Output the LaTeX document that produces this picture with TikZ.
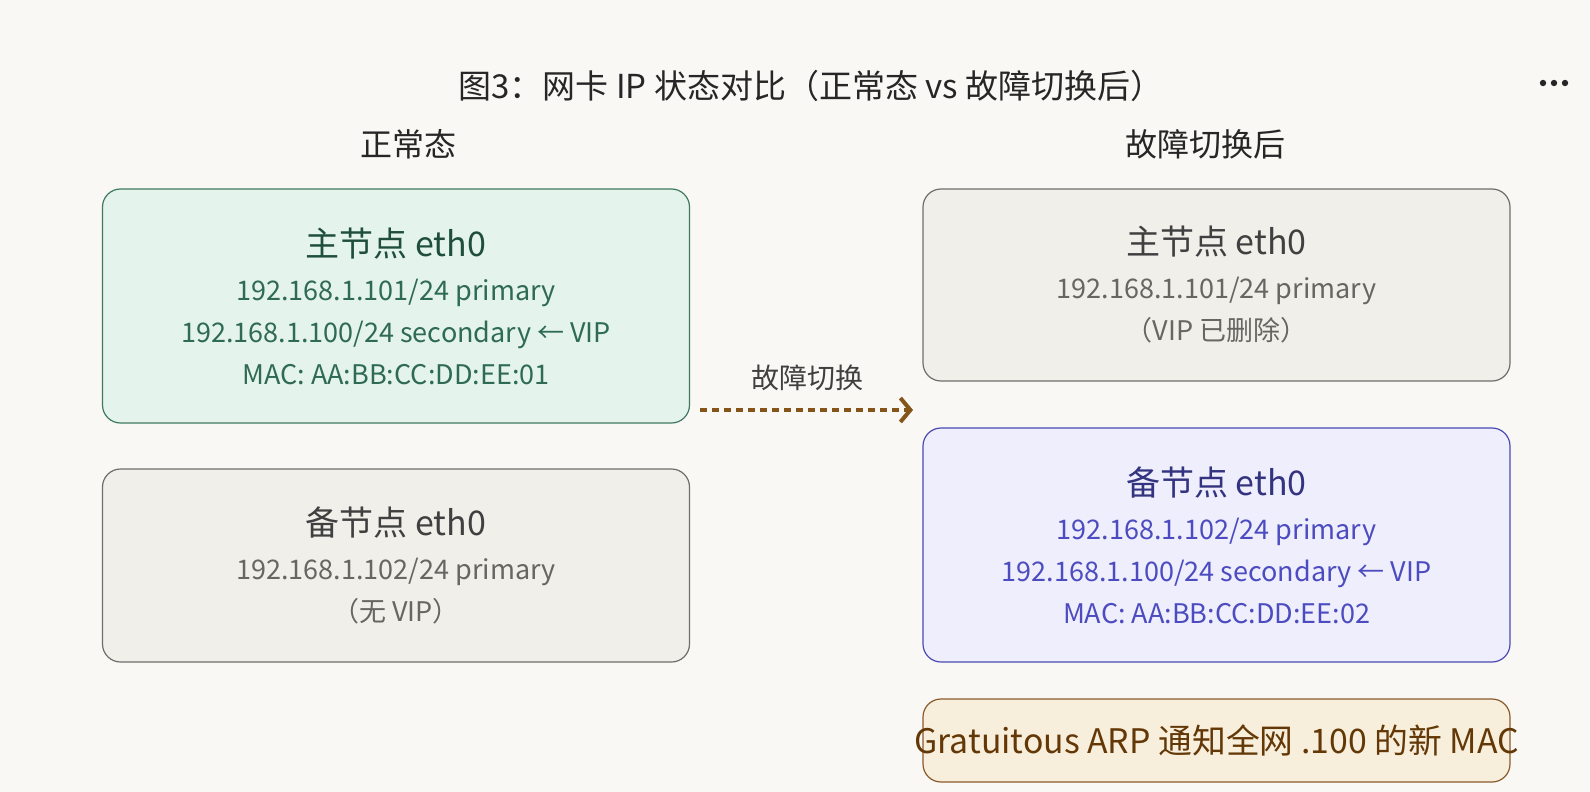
\documentclass[tikz,border=0pt]{standalone}
\usepackage{fontspec}
\setmainfont{Noto Sans CJK SC}
\usetikzlibrary{arrows.meta,positioning}
\definecolor{bgcol}{HTML}{FAF8F4}
\definecolor{inkcol}{HTML}{262626}
\definecolor{okfill}{HTML}{E4F3EC}
\definecolor{okline}{HTML}{3F7A60}
\definecolor{oktext}{HTML}{2F6B53}
\definecolor{okhead}{HTML}{1F4F3C}
\definecolor{idlefill}{HTML}{F0EFEA}
\definecolor{idleline}{HTML}{6E6E6A}
\definecolor{idletext}{HTML}{666662}
\definecolor{idlehead}{HTML}{404040}
\definecolor{vipfill}{HTML}{EEEEFC}
\definecolor{vipline}{HTML}{4A4AB4}
\definecolor{viptext}{HTML}{4C4CC0}
\definecolor{viphead}{HTML}{33337F}
\definecolor{arpfill}{HTML}{F7EEDB}
\definecolor{arpline}{HTML}{8B5A2B}
\definecolor{arptext}{HTML}{633806}
\definecolor{swcol}{HTML}{845419}
\tikzset{
  panel/.style={
    draw,
    rounded corners=9pt,
    line width=0.6pt,
    minimum width=293.5pt,
    align=center,
    inner sep=0pt,
    font=\fontsize{13.5}{21}\selectfont
  },
  okpanel/.style={panel, draw=okline, fill=okfill, text=oktext},
  idlepanel/.style={panel, draw=idleline, fill=idlefill, text=idletext},
  vippanel/.style={panel, draw=vipline, fill=vipfill, text=viptext},
  heading/.style={
    text=inkcol,
    font=\fontsize{16}{20}\selectfont
  },
  dot/.style={
    shape=circle,
    fill=inkcol,
    inner sep=0pt,
    minimum size=3.2pt
  },
}
\newcommand{\hd}[2]{{\color{#1}\fontsize{17}{20}\selectfont #2}\\[1pt]}

\begin{document}
\begin{tikzpicture}[x=0.5pt,y=-0.5pt]
  \useasboundingbox[fill=bgcol] (0,0) rectangle (1590,792);
  % titles
  \node[heading, font=\fontsize{16.5}{20}\selectfont] (title) at (811,86) {图3：网卡 IP 状态对比（正常态 vs 故障切换后）};
  \node[heading] (normal) at (408,144) {正常态};
  \node[heading] (after) at (1205,144) {故障切换后};
  \foreach \x [count=\i] in {1543,1554,1565}{
    \node[dot] (d\i) at (\x,83) {};
  }
  % normal state
  \node[okpanel, minimum height=117pt] (mainA) at (396,306)
    {\hd{okhead}{主节点 eth0}
     192.168.1.101/24 primary\\
     192.168.1.100/24 secondary ← VIP\\
     MAC: AA:BB:CC:DD:EE:01};
  \node[idlepanel, minimum height=96.5pt] (backA) at (396,565.5)
    {\hd{idlehead}{备节点 eth0}
     192.168.1.102/24 primary\\
     （无 VIP）};
  % after failover
  \node[idlepanel, minimum height=96pt] (mainB) at (1216.5,285)
    {\hd{idlehead}{主节点 eth0}
     192.168.1.101/24 primary\\
     （VIP 已删除）};
  \node[vippanel, minimum height=117pt] (backB) at (1216.5,545)
    {\hd{viphead}{备节点 eth0}
     192.168.1.102/24 primary\\
     192.168.1.100/24 secondary ← VIP\\
     MAC: AA:BB:CC:DD:EE:02};
  \node[panel, draw=arpline, fill=arpfill, minimum height=41.5pt] (arp) at (1216.5,740.5) {};
  \node[text=arptext, font=\fontsize{16.9}{20}\selectfont, inner sep=0pt] (arpt) at (arp.center)
    {Gratuitous ARP 通知全网 .100 的新 MAC};
  % failover arrow
  \coordinate (fs) at (700,410);
  \coordinate (fe) at (913,410);
  \draw[swcol, line width=2pt, dash pattern=on 3.7pt off 2.3pt,
        -{Straight Barb[length=5pt,width=12pt,line width=2pt]}] (fs) -- (fe);
  \node[text=idlehead, font=\fontsize{14}{18}\selectfont] (swlbl) at (807,378) {故障切换};
\end{tikzpicture}
\end{document}
